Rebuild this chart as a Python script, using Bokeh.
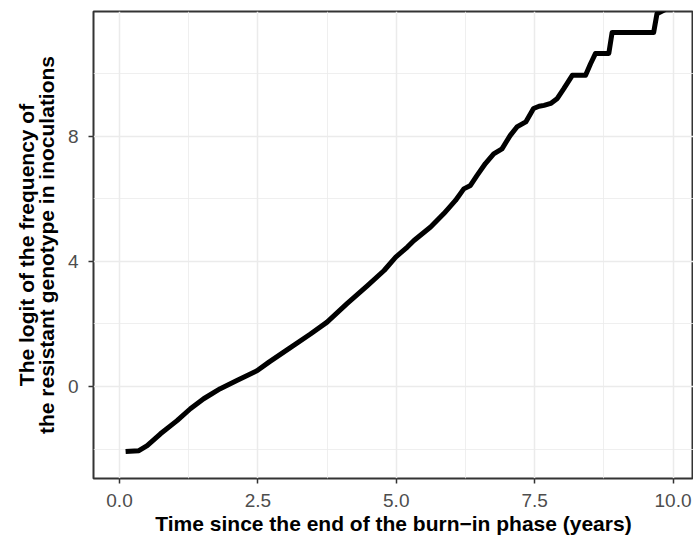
from bokeh.plotting import figure
from bokeh.models import Range1d, FixedTicker
from bokeh.embed import file_html
from bokeh.resources import INLINE

# ---- data ----
time_years = [0.11, 0.35, 0.50, 0.74, 1.04, 1.28, 1.52, 1.82, 2.12, 2.49, 2.70,
              3.06, 3.45, 3.75, 4.11, 4.48, 4.78, 4.99, 5.20, 5.32, 5.62, 5.86,
              6.07, 6.22, 6.34, 6.46, 6.61, 6.76, 6.91, 7.06, 7.18, 7.34, 7.48,
              7.58, 7.67, 7.79, 7.91, 8.03, 8.18, 8.42, 8.51, 8.60, 8.84, 8.90,
              9.65, 9.71, 9.86]
logit_freq = [-2.08, -2.05, -1.89, -1.51, -1.09, -0.71, -0.39, -0.07, 0.19, 0.51, 0.78,
              1.21, 1.68, 2.06, 2.65, 3.23, 3.71, 4.14, 4.46, 4.67, 5.10, 5.53,
              5.95, 6.32, 6.43, 6.75, 7.13, 7.44, 7.60, 8.03, 8.30, 8.46, 8.89,
              8.96, 8.99, 9.05, 9.21, 9.53, 9.95, 9.95, 10.32, 10.65, 10.65, 11.32,
              11.32, 11.92, 12.05]

x_ticks = [0, 2.5, 5, 7.5, 10]
x_tick_labels = ["0.0", "2.5", "5.0", "7.5", "10.0"]
x_minor = [-1.25, 1.25, 3.75, 6.25, 8.75]
y_ticks = [0, 4, 8]
y_tick_labels = ["0", "4", "8"]
y_minor = [-2, 2, 6, 10]

x_title = "Time since the end of the burn\u2212in phase (years)"
y_title = "The logit of the frequency of\nthe resistant genotype in inoculations"

FONT = "Liberation Sans"

p = figure(width=693, height=541, output_backend="svg", toolbar_location=None,
           x_range=Range1d(-0.47, 10.37), y_range=Range1d(-2.94, 11.99),
           min_border_left=93, min_border_right=0, min_border_top=11, min_border_bottom=63)

p.background_fill_color = "white"
p.border_fill_color = "white"
p.outline_line_color = "#333333"
p.outline_line_width = 2

p.line(time_years, logit_freq, line_color="black", line_width=5, line_join="round")

p.xaxis.ticker = FixedTicker(ticks=x_ticks, minor_ticks=x_minor)
p.yaxis.ticker = FixedTicker(ticks=y_ticks, minor_ticks=y_minor)
p.xaxis.major_label_overrides = dict(zip(x_ticks, x_tick_labels))
p.yaxis.major_label_overrides = dict(zip(y_ticks, y_tick_labels))

for g in (p.xgrid, p.ygrid):
    g.grid_line_color = "#EBEBEB"
    g.grid_line_width = 1.5
    g.minor_grid_line_color = "#EBEBEB"
    g.minor_grid_line_width = 0.8

for ax in (p.xaxis, p.yaxis):
    ax.axis_line_color = None
    ax.major_tick_line_color = "#333333"
    ax.major_tick_line_width = 1.5
    ax.major_tick_out = 5
    ax.major_tick_in = 0
    ax.minor_tick_line_color = None
    ax.major_label_text_font = FONT
    ax.major_label_text_font_size = "19px"
    ax.major_label_text_color = "#4D4D4D"
    ax.axis_label_text_font = FONT
    ax.axis_label_text_font_size = "21px"
    ax.axis_label_text_font_style = "bold"
    ax.axis_label_text_color = "black"

p.xaxis.axis_label = x_title
p.yaxis.axis_label = y_title
p.yaxis.axis_label_text_line_height = 0.88
p.xaxis.major_label_standoff = 10
p.yaxis.major_label_standoff = 10
p.xaxis.axis_label_standoff = 2
p.yaxis.axis_label_standoff = 7

open("out.html", "w").write(file_html(p, INLINE))
